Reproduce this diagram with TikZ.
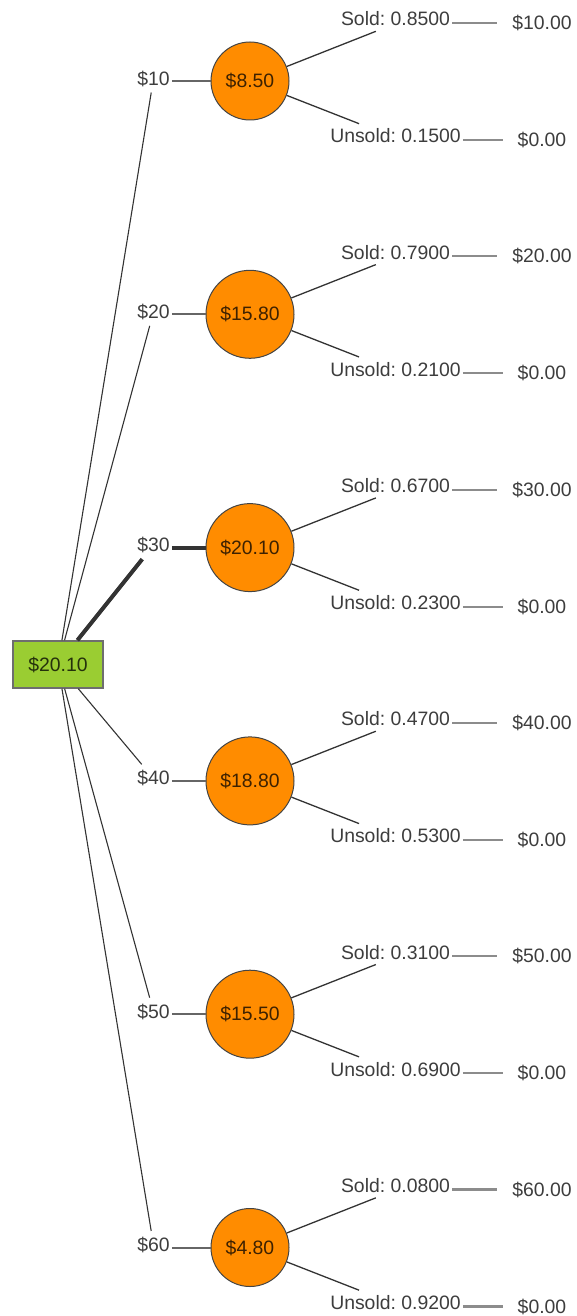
\documentclass[tikz,border=0pt]{standalone}
\usepackage{fontspec}
\setmainfont{Liberation Sans}
\frenchspacing
\definecolor{dk}{HTML}{333333}
\definecolor{stubgray}{HTML}{666666}
\definecolor{endgray}{HTML}{8C8C8C}
\definecolor{rootfill}{HTML}{9ACD32}
\definecolor{rootline}{HTML}{6E6E6E}
\definecolor{orangefill}{HTML}{FF8C00}
\definecolor{circline}{HTML}{444444}
\tikzset{
  base/.style={font=\fontsize{19.4}{23}\selectfont, text=black, text opacity=0.76},
  rootbox/.style={base, draw=rootline, fill=rootfill, line width=1.5pt, minimum width=90pt, minimum height=47pt, inner sep=0pt},
  chance/.style={base, circle, draw=circline, fill=orangefill, line width=1pt, inner sep=0pt},
  dlab/.style={base, inner xsep=2pt, inner ysep=6pt},
  olab/.style={base, inner xsep=2pt, inner ysep=5pt},
  pay/.style={base, inner xsep=15pt, inner ysep=3pt},
  branch/.style={draw=dk, line width=1.1pt},
  best/.style={draw=dk, line width=4pt},
  stub/.style={draw=stubgray, line width=2pt},
  endline/.style={draw=endgray, line width=2.2pt}
}
\begin{document}
\begin{tikzpicture}[x=1pt, y=-1pt]
\useasboundingbox (0,0) rectangle (576,1316);
\node[rootbox] (r) at (58,664.5) {\$20.10};
\foreach \i/\dv/\cv/\sp/\up/\pay/\sz/\st/\hst in {
  1/10/8.50/0.8500/0.1500/10.00/78/branch/stub,
  2/20/15.80/0.7900/0.2100/20.00/88/branch/stub,
  3/30/20.10/0.6700/0.2300/30.00/88/best/best,
  4/40/18.80/0.4700/0.5300/40.00/88/branch/stub,
  5/50/15.50/0.3100/0.6900/50.00/88/branch/stub,
  6/60/4.80/0.0800/0.9200/60.00/78/branch/stub}{
  \pgfmathsetmacro\cy{81+(\i-1)*233.3}
  \node[chance, minimum size=\sz pt] (c\i) at (250,\cy) {\$\cv};
  \node[dlab] (d\i) at (153.5,\cy-2.5) {\$\dv};
  \node[olab] (s\i) at (395.5,\cy-62) {Sold: \sp};
  \node[olab] (u\i) at (395.5,\cy+55) {Unsold: \up};
  \node[pay] (ps\i) at (542,\cy-58) {\$\pay};
  \node[pay] (pu\i) at (542,\cy+59) {\$0.00};
  \draw[\st] (r) -- (d\i);
  \draw[\hst] (d\i.east |- c\i.west) -- (c\i.west);
  \draw[branch, line width=1.3pt] (c\i) -- ([xshift=37pt]s\i.south west);
  \draw[branch, line width=1.3pt] (c\i) -- ([xshift=31pt]u\i.north west);
  \draw[endline] ([yshift=-4pt]s\i.east) -- (ps\i.west);
  \draw[endline] ([yshift=-4pt]u\i.east) -- (pu\i.west);
}
\end{tikzpicture}
\end{document}
